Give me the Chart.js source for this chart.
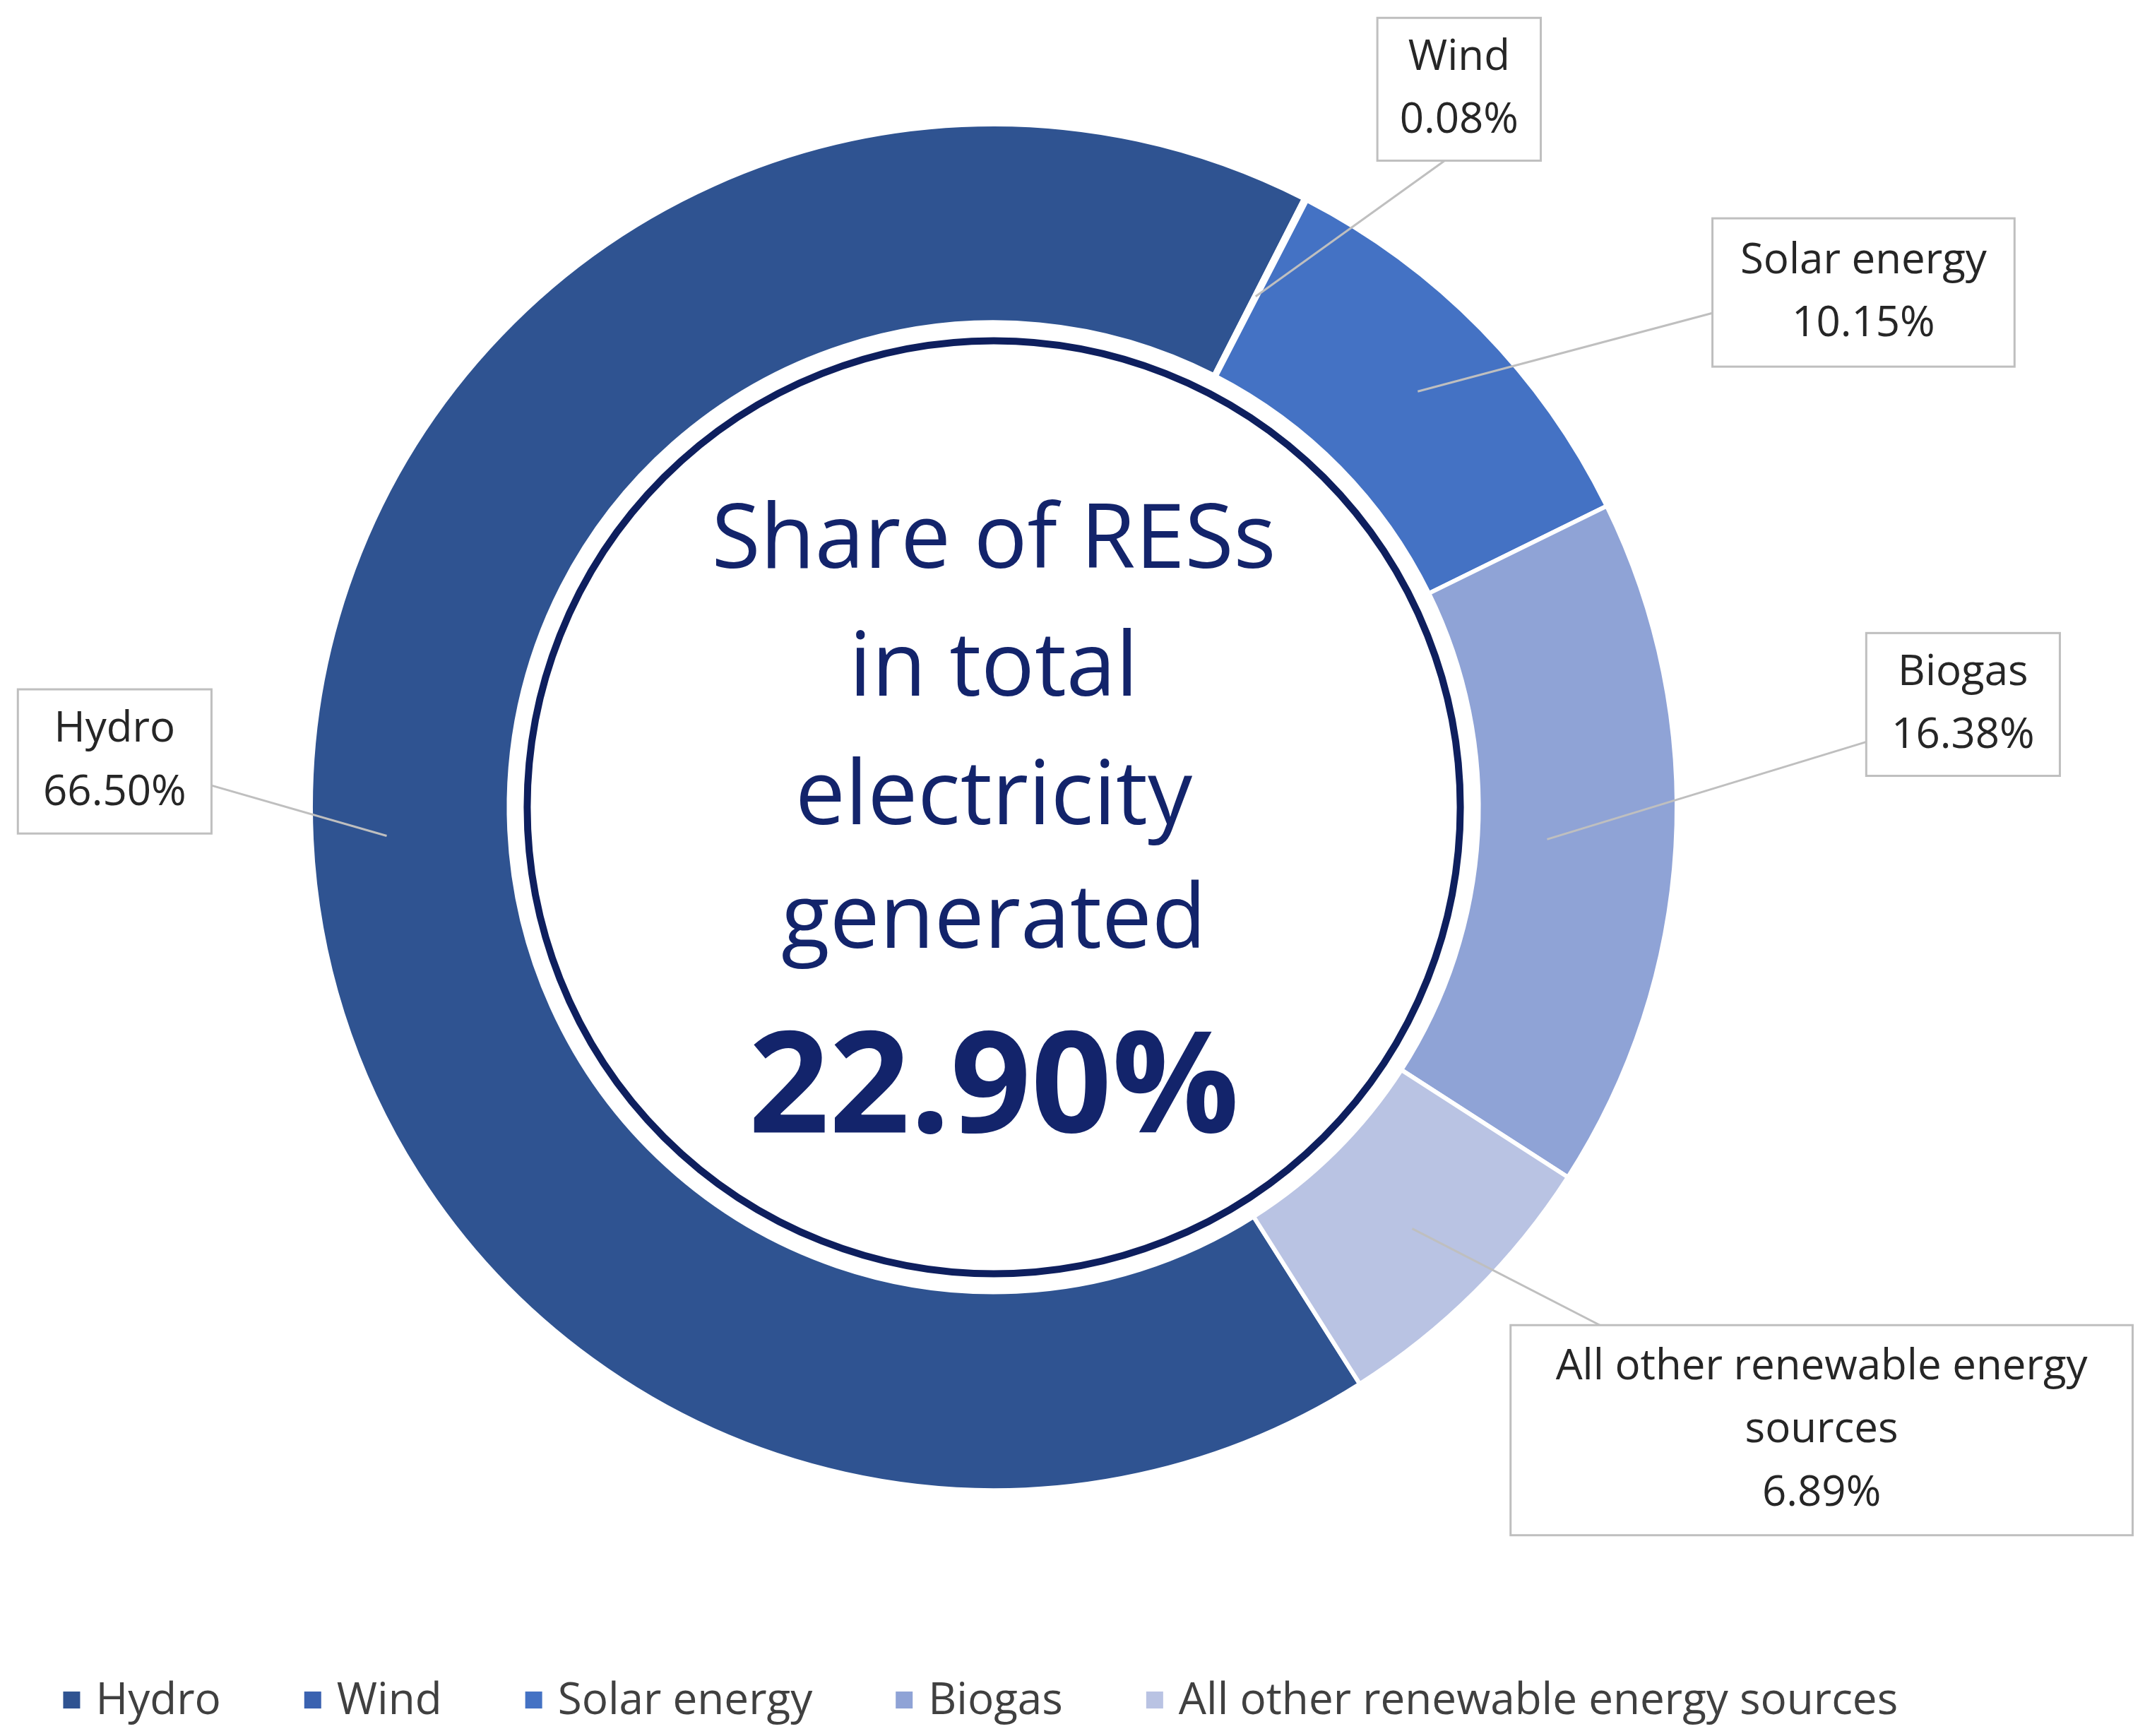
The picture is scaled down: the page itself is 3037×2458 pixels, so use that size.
<!DOCTYPE html>
<html><head><meta charset="utf-8">
<script src="https://cdn.jsdelivr.net/npm/chart.js@4"></script>
<style>html,body{margin:0;padding:0;background:#fff}canvas{display:block}</style>
</head><body>
<canvas id="c" width="3037" height="2458"></canvas>
<script>
const categories = ["Hydro","Wind","Solar energy","Biogas","All other renewable energy sources"];
const shares = [66.50, 0.08, 10.15, 16.38, 6.89];
const valueLabels = ["66.50%","0.08%","10.15%","16.38%","6.89%"];
const calloutNames = [["Hydro"],["Wind"],["Solar energy"],["Biogas"],["All other renewable energy","sources"]];
const centerLines = ["Share of RESs","in total","electricity","generated"];
const centerValue = "22.90%";
const colors = ["#2F5391","#3A62B0","#4472C4","#8FA3D6","#B9C3E3"];

const S = 3037/1562;
const FONT = '"Open Sans", "Noto Sans", sans-serif';
const boxes = [
  [13,502,141,105, 154,572],
  [1003,13,119,104, 1052,117],
  [1247,159,220,108, 1247,228],
  [1359,461,141,104, 1360,540],
  [1100,965,453,153, 1165,965]
];
const tipR = [0.62, 0.45, 0.55, 0.35, 0.55];

const overlay = {
  id:'overlay',
  afterDatasetsDraw(chart){
    const ctx = chart.ctx;
    const meta = chart.getDatasetMeta(0);
    const a0 = meta.data[0];
    const cx = a0.x, cy = a0.y, iR = a0.innerRadius;
    ctx.save();
    ctx.beginPath(); ctx.arc(cx, cy, iR - 26, 0, Math.PI*2);
    ctx.lineWidth = 10; ctx.strokeStyle = '#0E1F5E'; ctx.stroke();
    ctx.fillStyle = '#13246B'; ctx.textAlign='center'; ctx.textBaseline='middle';
    ctx.font = '126px ' + FONT;
    const ys = [395,488,582,672];
    centerLines.forEach((t,i)=>ctx.fillText(t, cx, ys[i]*S));
    ctx.font = 'bold 200px ' + FONT;
    ctx.fillText(centerValue, cx, 795*S);
    meta.data.forEach((arc,i)=>{
      const mid = (arc.startAngle+arc.endAngle)/2;
      const r = arc.innerRadius + tipR[i]*(arc.outerRadius-arc.innerRadius);
      const tx = cx + Math.cos(mid)*r, ty = cy + Math.sin(mid)*r;
      const b = boxes[i];
      ctx.beginPath(); ctx.moveTo(b[4]*S, b[5]*S); ctx.lineTo(tx, ty);
      ctx.strokeStyle = '#BFBFBF'; ctx.lineWidth = 3; ctx.stroke();
      ctx.fillStyle = '#fff';
      ctx.fillRect(b[0]*S, b[1]*S, b[2]*S, b[3]*S);
      ctx.strokeRect(b[0]*S, b[1]*S, b[2]*S, b[3]*S);
      const lines = calloutNames[i].concat([valueLabels[i]]);
      ctx.fillStyle = '#262626'; ctx.font = '60px ' + FONT;
      const midx = (b[0]+b[2]/2)*S, lh = 46*S;
      const top = (b[1]+b[3]/2)*S - (lines.length-1)*lh/2;
      lines.forEach((t,k)=>ctx.fillText(t, midx, top + k*lh));
    });
    ctx.font = '62px ' + FONT; ctx.textAlign='left';
    let x = 46*S; const ly = 1238*S;
    categories.forEach((c,i)=>{
      ctx.fillStyle = colors[i];
      ctx.fillRect(x, ly-12, 24, 24);
      ctx.fillStyle = '#404040';
      ctx.fillText(c, x + 46, ly+2);
      x += 46 + ctx.measureText(c).width + 118;
    });
    ctx.restore();
  }
};

new Chart(document.getElementById('c'), {
  type:'doughnut',
  data:{labels:categories, datasets:[{data:shares, backgroundColor:colors, borderColor:'#fff', borderWidth:6}]},
  options:{
    responsive:false, animation:false, cutout:'71%', rotation:147.6,
    layout:{padding:{left:437,right:660,top:173,bottom:345}},
    plugins:{legend:{display:false}, tooltip:{enabled:false}}
  },
  plugins:[overlay]
});
</script>
</body></html>
